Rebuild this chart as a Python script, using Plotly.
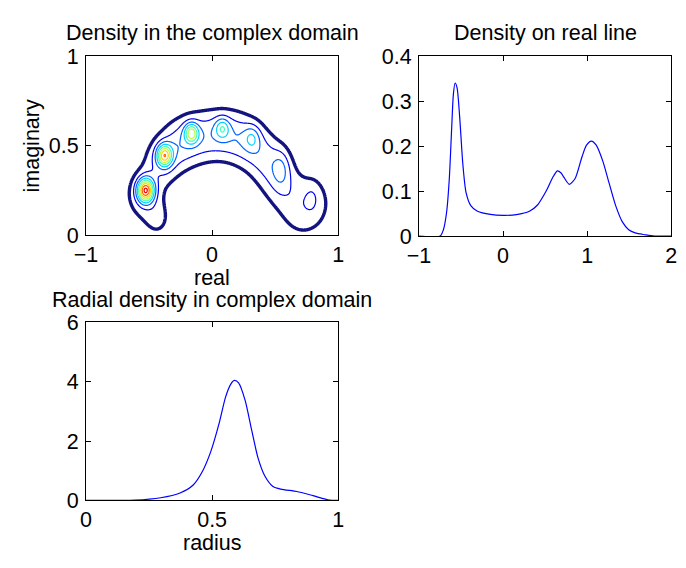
import numpy as np
import plotly.graph_objects as go

# ---------------- data ----------------
# complex-domain density: mixture components (peaks and a broad ridge)
peak_x = [-0.527, -0.377, -0.164, 0.081, 0.318, 0.550, 0.794]
peak_y = [0.25, 0.445, 0.570, 0.597, 0.544, 0.372, 0.209]
peak_amp = [7.5, 5.6, 4.2, 2.5, 1.7, 1.5, 0.7]
peak_sx = [0.045, 0.042, 0.038, 0.04, 0.045, 0.05, 0.04]
peak_sy = [0.045, 0.042, 0.038, 0.04, 0.048, 0.075, 0.055]

ridge_x = [-0.55, -0.43, -0.41, -0.28, -0.15, 0.00, 0.15, 0.28, 0.40, 0.49, 0.56, 0.68, 0.81]
ridge_y = [0.22, 0.09, 0.40, 0.50, 0.54, 0.56, 0.56, 0.52, 0.45, 0.36, 0.26, 0.13, 0.18]
ridge_amp = [1.55, 1.1, 1.68, 1.7, 1.7, 1.7, 1.7, 1.62, 1.4, 1.2, 0.95, 0.85, 1.12]
ridge_s = [0.1, 0.08, 0.1, 0.1, 0.1, 0.1, 0.1, 0.1, 0.1, 0.1, 0.11, 0.11, 0.13]

contour_levels = [1, 2, 3, 4, 5, 6, 7, 8, 9, 10]
contour_colors = ["rgb(20,20,128)", "rgb(0,0,241)", "rgb(0,99,255)", "rgb(0,212,255)",
                  "rgb(71,255,184)", "rgb(184,255,71)", "rgb(255,212,0)", "rgb(255,99,0)",
                  "rgb(241,0,0)", "rgb(128,0,0)"]

# density on real line
real_x = [-1.0, -0.749, -0.710, -0.672, -0.641, -0.614, -0.591, -0.571, -0.548, -0.517,
          -0.479, -0.440, -0.382, -0.305, -0.151, 0.004, 0.158, 0.313, 0.409, 0.506,
          0.529, 0.590, 0.645, 0.690, 0.722, 0.788, 0.857, 0.935, 0.992, 1.050,
          1.108, 1.185, 1.262, 1.340, 1.417, 1.494, 1.571, 1.687, 1.8, 2.0]
real_y = [0.0, 0.0, 0.014, 0.053, 0.124, 0.23, 0.316, 0.340, 0.33, 0.266,
          0.160, 0.096, 0.067, 0.055, 0.048, 0.046, 0.0475, 0.055, 0.069, 0.098,
          0.106, 0.130, 0.145, 0.140, 0.131, 0.115, 0.128, 0.174, 0.202, 0.211,
          0.202, 0.167, 0.117, 0.067, 0.032, 0.014, 0.007, 0.003, 0.0, 0.0]

# radial density
rad_x = [0.0, 0.193, 0.296, 0.373, 0.425, 0.463, 0.495, 0.528, 0.553, 0.573, 0.588,
         0.605, 0.631, 0.656, 0.682, 0.708, 0.740, 0.772, 0.836, 0.900, 0.965, 1.0]
rad_y = [0.0, 0.01, 0.09, 0.25, 0.52, 1.0, 1.65, 2.6, 3.47, 3.9, 4.04,
         3.96, 3.37, 2.4, 1.43, 0.84, 0.48, 0.38, 0.30, 0.16, 0.01, 0.0]

# ---------------- density grid ----------------
gx = np.linspace(-1, 1, 501)
gy = np.linspace(0, 1, 301)
X, Y = np.meshgrid(gx, gy)
Z = np.zeros_like(X)
for cx, cy, a, sx, sy in zip(peak_x, peak_y, peak_amp, peak_sx, peak_sy):
    Z += a * np.exp(-((X - cx) ** 2 / (2 * sx ** 2) + (Y - cy) ** 2 / (2 * sy ** 2)))
for cx, cy, a, s in zip(ridge_x, ridge_y, ridge_amp, ridge_s):
    Z += a * np.exp(-((X - cx) ** 2 + (Y - cy) ** 2) / (2 * s ** 2))

W, H = 686, 568
def px(x):
    return x / W
def py(y):
    return 1 - y / H

FONT = "Liberation Sans, Arial, sans-serif"
FS = 21.5

fig = go.Figure()
for lv, col in zip(contour_levels, contour_colors):
    fig.add_trace(go.Contour(
        x=gx, y=gy, z=Z, xaxis="x", yaxis="y",
        contours=dict(start=lv, end=lv, size=1, coloring="lines"),
        colorscale=[[0, col], [1, col]], showscale=False,
        line=dict(width=3.4 if lv == 1 else 1.2), hoverinfo="skip"))

fig.add_trace(go.Scatter(x=real_x, y=real_y, mode="lines", xaxis="x2", yaxis="y2",
                         line=dict(color="rgb(0,0,255)", width=1.2, shape="spline", smoothing=0.7)))
fig.add_trace(go.Scatter(x=rad_x, y=rad_y, mode="lines", xaxis="x3", yaxis="y3",
                         line=dict(color="rgb(0,0,255)", width=1.2, shape="spline", smoothing=0.7)))

ax_common = dict(showline=True, linecolor="black", linewidth=1, mirror="ticks",
                 ticks="inside", ticklen=5, tickcolor="black", showgrid=False,
                 zeroline=False, tickfont=dict(family=FONT, size=FS, color="black"))
yx = dict(ticklabelstandoff=2)

fig.update_layout(
    width=W, height=H, margin=dict(l=0, r=0, t=0, b=0),
    paper_bgcolor="white", plot_bgcolor="white", showlegend=False,
    xaxis=dict(domain=[px(76), px(335)], range=[-1, 1], tickvals=[-1, 0, 1], anchor="y", **ax_common),
    yaxis=dict(domain=[py(234), py(47)], range=[0, 1], tickvals=[0, 0.5, 1], anchor="x", **ax_common, **yx),
    xaxis2=dict(domain=[px(418), px(677)], range=[-1, 2], tickvals=[-1, 0, 1, 2], anchor="y2", **ax_common),
    yaxis2=dict(domain=[py(235), py(47)], range=[0, 0.4], tickvals=[0, 0.1, 0.2, 0.3, 0.4], anchor="x2", **ax_common, **yx),
    xaxis3=dict(domain=[px(76), px(335)], range=[0, 1], tickvals=[0, 0.5, 1], anchor="y3", **ax_common),
    yaxis3=dict(domain=[py(511), py(325)], range=[0, 6], tickvals=[0, 2, 4, 6], anchor="x3", **ax_common, **yx),
)

def ann(text, x, y, angle=0):
    fig.add_annotation(text=text, x=px(x), y=py(y), xref="paper", yref="paper",
                       showarrow=False, xanchor="center", yanchor="middle", textangle=angle,
                       font=dict(family=FONT, size=FS, color="black"))

ann("Density in the complex domain", 205.5, 23)
ann("Density on real line", 547.5, 23)
ann("Radial density in complex domain", 205.5, 302)
ann("real", 205.5, 279)
ann("imaginary", 21, 141, -90)
ann("radius", 205.5, 555)

fig.write_html("out.html")
